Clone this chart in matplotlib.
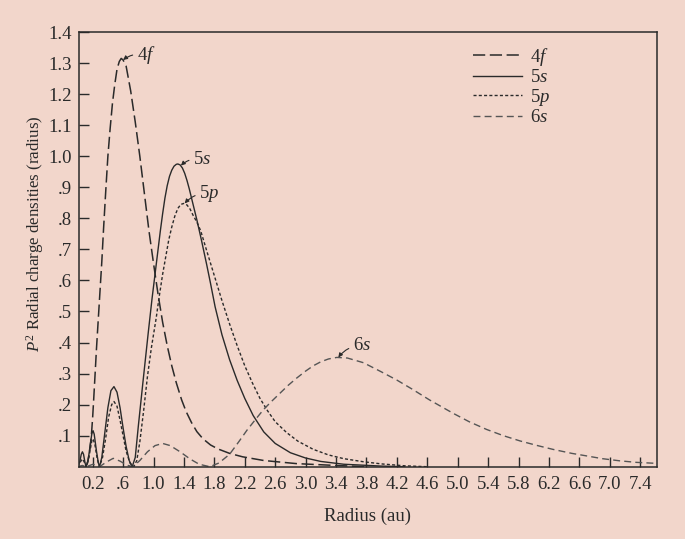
import matplotlib
matplotlib.use('Agg')
import matplotlib.pyplot as plt

plt.rcParams['font.family'] = ['Liberation Serif', 'DejaVu Serif']
plt.rcParams['mathtext.fontset'] = 'custom'
plt.rcParams['mathtext.rm'] = 'Liberation Serif'
plt.rcParams['mathtext.it'] = 'Liberation Serif:italic'

# radial densities
x_4f = [0.10, 0.13, 0.16, 0.18, 0.20, 0.213, 0.23, 0.25, 0.27, 0.29, 0.32, 0.344, 0.37, 0.40,
        0.43, 0.46, 0.49, 0.52, 0.55, 0.575, 0.60, 0.64, 0.70, 0.76, 0.82, 0.88, 0.94, 1.00,
        1.06, 1.12, 1.18, 1.24, 1.30, 1.37, 1.43, 1.50, 1.57, 1.65, 1.75, 1.85, 2.00, 2.17,
        2.45, 2.88, 3.40, 3.80]
y_4f = [0.0, 0.01, 0.05, 0.09, 0.16, 0.215, 0.29, 0.38, 0.46, 0.54, 0.66, 0.77, 0.88, 1.00,
        1.09, 1.17, 1.23, 1.28, 1.305, 1.315, 1.31, 1.29, 1.21, 1.11, 1.00, 0.88, 0.76, 0.655,
        0.555, 0.465, 0.39, 0.325, 0.27, 0.215, 0.177, 0.142, 0.113, 0.09, 0.07, 0.057, 0.043, 0.032,
        0.02, 0.01, 0.004, 0.0]

x_5s = [0.00, 0.03, 0.05, 0.065, 0.08, 0.10, 0.115, 0.14, 0.17, 0.19, 0.205, 0.22, 0.25, 0.275,
        0.29, 0.32, 0.36, 0.40, 0.44, 0.48, 0.52, 0.56, 0.60, 0.64, 0.68, 0.72, 0.76, 0.80,
        0.86, 0.93, 0.98, 1.03, 1.09, 1.12, 1.15, 1.18, 1.21, 1.24, 1.27, 1.30, 1.32, 1.35,
        1.38, 1.41, 1.44, 1.47, 1.51, 1.57, 1.63, 1.70, 1.75, 1.81, 1.90, 2.00, 2.10, 2.20,
        2.31, 2.45, 2.60, 2.80, 3.00, 3.20, 3.50, 4.00, 4.30]
y_5s = [0.0, 0.015, 0.04, 0.048, 0.04, 0.012, 0.0, 0.02, 0.075, 0.108, 0.116, 0.105, 0.05, 0.012,
        0.0, 0.03, 0.11, 0.19, 0.245, 0.258, 0.24, 0.19, 0.125, 0.065, 0.02, 0.0, 0.03, 0.13,
        0.27, 0.43, 0.54, 0.64, 0.76, 0.815, 0.865, 0.905, 0.935, 0.955, 0.968, 0.974, 0.975, 0.972,
        0.962, 0.945, 0.922, 0.895, 0.855, 0.795, 0.73, 0.65, 0.59, 0.515, 0.425, 0.345, 0.278, 0.22,
        0.165, 0.112, 0.075, 0.045, 0.028, 0.017, 0.008, 0.002, 0.0]

x_5p = [0.00, 0.05, 0.065, 0.09, 0.115, 0.15, 0.19, 0.205, 0.23, 0.26, 0.29, 0.33, 0.37, 0.41,
        0.45, 0.48, 0.52, 0.56, 0.60, 0.64, 0.69, 0.74, 0.78, 0.82, 0.87, 0.92, 0.97, 1.036,
        1.07, 1.12, 1.16, 1.20, 1.24, 1.28, 1.32, 1.36, 1.40, 1.44, 1.48, 1.52, 1.57, 1.62,
        1.70, 1.80, 1.90, 2.00, 2.10, 2.20, 2.30, 2.40, 2.50, 2.60, 2.75, 2.90, 3.10, 3.30,
        3.50, 3.76, 4.00, 4.30, 4.60]
y_5p = [0.0, 0.02, 0.025, 0.015, 0.0, 0.03, 0.085, 0.09, 0.07, 0.025, 0.0, 0.03, 0.09, 0.16,
        0.20, 0.21, 0.195, 0.15, 0.10, 0.05, 0.012, 0.0, 0.02, 0.08, 0.18, 0.29, 0.38, 0.48,
        0.54, 0.62, 0.675, 0.73, 0.772, 0.807, 0.832, 0.845, 0.848, 0.843, 0.83, 0.81, 0.788, 0.76,
        0.695, 0.615, 0.535, 0.46, 0.39, 0.325, 0.27, 0.22, 0.18, 0.145, 0.11, 0.082, 0.056, 0.038,
        0.026, 0.016, 0.009, 0.003, 0.0]

x_6s = [0.00, 0.065, 0.115, 0.205, 0.29, 0.38, 0.47, 0.56, 0.65, 0.73, 0.82, 0.92, 1.02, 1.12,
        1.22, 1.35, 1.48, 1.60, 1.74, 1.86, 2.00, 2.12, 2.23, 2.35, 2.45, 2.55, 2.66, 2.77,
        2.88, 3.00, 3.10, 3.20, 3.30, 3.41, 3.55, 3.76, 4.00, 4.20, 4.40, 4.63, 4.94, 5.15,
        5.38, 5.60, 5.82, 6.05, 6.25, 6.50, 6.69, 6.90, 7.13, 7.35, 7.60]
y_6s = [0.0, 0.004, 0.0, 0.008, 0.0, 0.015, 0.027, 0.018, 0.005, 0.0, 0.02, 0.048, 0.068, 0.075,
        0.068, 0.048, 0.025, 0.008, 0.0, 0.012, 0.04, 0.08, 0.118, 0.155, 0.185, 0.21, 0.236, 0.262,
        0.285, 0.308, 0.325, 0.338, 0.347, 0.352, 0.35, 0.335, 0.305, 0.279, 0.25, 0.215, 0.172, 0.145,
        0.12, 0.10, 0.083, 0.068, 0.056, 0.043, 0.035, 0.026, 0.019, 0.014, 0.011]

xticks = [0.2, 0.6, 1.0, 1.4, 1.8, 2.2, 2.6, 3.0, 3.4, 3.8, 4.2, 4.6, 5.0, 5.4, 5.8, 6.2, 6.6, 7.0, 7.4]
xlabels = ['0.2', '.6', '1.0', '1.4', '1.8', '2.2', '2.6', '3.0', '3.4', '3.8', '4.2', '4.6',
           '5.0', '5.4', '5.8', '6.2', '6.6', '7.0', '7.4']
yticks = [0.1, 0.2, 0.3, 0.4, 0.5, 0.6, 0.7, 0.8, 0.9, 1.0, 1.1, 1.2, 1.3, 1.4]
ylabels = ['.1', '.2', '.3', '.4', '.5', '.6', '.7', '.8', '.9', '1.0', '1.1', '1.2', '1.3', '1.4']

bg = '#f2d6cb'
ink = '#2a2a2a'

fig = plt.figure(figsize=(6.85, 5.39), dpi=100, facecolor=bg)
ax = fig.add_axes([0.1153, 0.1341, 0.8438, 0.8065], facecolor=bg)

ax.plot(x_4f, y_4f, color=ink, lw=1.1, dashes=(8, 3), label='4$f$')
ax.plot(x_5s, y_5s, color=ink, lw=1.0, label='5$s$')
ax.plot(x_5p, y_5p, color=ink, lw=1.0, dashes=(2.2, 1.6), label='5$p$')
ax.plot(x_6s, y_6s, color='#555555', lw=1.0, dashes=(5, 3), label='6$s$')

ax.set_xlim(0.02, 7.62)
ax.set_ylim(0, 1.4)
ax.set_xticks(xticks)
ax.set_xticklabels(xlabels)
ax.set_yticks(yticks)
ax.set_yticklabels(ylabels)
ax.tick_params(direction='in', length=7, width=1, colors=ink, labelsize=13.5)
ax.tick_params(axis='x', pad=7)
ax.tick_params(axis='y', pad=5)
for s in ax.spines.values():
    s.set_color(ink)
    s.set_linewidth(1.1)

ax.set_xlabel('Radius (au)', fontsize=13.5, color=ink)
ax.set_ylabel('$P^2$ Radial charge densities (radius)', fontsize=12.2, color=ink)
ax.xaxis.set_label_coords(0.5, -0.095)
ax.yaxis.set_label_coords(-0.057, 0.535)

ap = dict(arrowstyle='-|>', color=ink, lw=0.8, mutation_scale=6,
          connectionstyle='arc3,rad=0.25', shrinkA=1, shrinkB=0)
ax.annotate('4$f$', xy=(0.60, 1.31), xytext=(0.78, 1.325), fontsize=13.5, color=ink,
            va='center', arrowprops=ap)
ax.annotate('5$s$', xy=(1.36, 0.97), xytext=(1.52, 0.99), fontsize=13.5, color=ink,
            va='center', arrowprops=ap)
ax.annotate('5$p$', xy=(1.41, 0.848), xytext=(1.60, 0.88), fontsize=13.5, color=ink,
            va='center', arrowprops=ap)
ax.annotate('6$s$', xy=(3.43, 0.352), xytext=(3.62, 0.39), fontsize=13.5, color=ink,
            va='center', arrowprops=ap)

ax.legend(loc='upper left', bbox_to_anchor=(0.669, 0.985), frameon=False, fontsize=13.5,
          handlelength=2.6, handletextpad=0.45, labelspacing=0.05, borderaxespad=0,
          labelcolor=ink)

plt.savefig('out.png', dpi=100, facecolor=bg)
